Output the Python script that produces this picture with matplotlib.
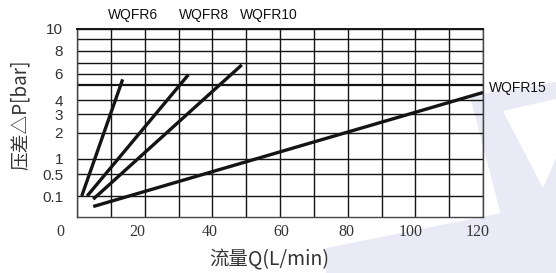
import numpy as np
import matplotlib
matplotlib.use("Agg")
import matplotlib.pyplot as plt
from matplotlib.transforms import ScaledTranslation

# pressure-drop chart, values
levels = [0, 0.1, 0.5, 1, 2, 3, 4, 5, 6, 7, 8, 9, 10]
# distance of each level from the bottom of the grid (picture pixels)
level_pos = [0, 21, 42.7, 58, 84.3, 102.7, 117, 132, 143.3, 154.3, 166, 177.7, 188]

ytick_vals = [0.1, 0.5, 1, 2, 3, 4, 6, 8, 10]
ytick_labels = ["0.1", "0.5", "1", "2", "3", "4", "6", "8", "10"]
xtick_vals = [0, 20, 40, 60, 80, 100, 120]

q_wqfr6 = [1.4, 13.5]
p_wqfr6 = [0.1, 5.5]
q_wqfr8 = [3.0, 32.9]
p_wqfr8 = [0.1, 5.9]
q_wqfr10 = [4.8, 48.7]
p_wqfr10 = [0.085, 6.8]
q_wqfr15 = [4.8, 120]
p_wqfr15 = [0.05, 4.5]

names = ["WQFR6", "WQFR8", "WQFR10", "WQFR15"]

W, H = 556, 273


def fwd(v):
    return np.interp(v, levels, level_pos)


def inv(p):
    return np.interp(p, level_pos, levels)


def px(pts):
    # picture pixels (from top-left) -> figure fraction
    return [[x / W, 1 - y / H] for x, y in pts]


fig = plt.figure(figsize=(W / 100, H / 100), dpi=100)
fig.patch.set_facecolor("white")

# faint logo watermark behind everything
wm = "#eaeaf6"
for pts, c in [
    ([(326, 273), (326, 248), (501, 213), (516, 273)], wm),
    ([(470, 96), (556, 82), (556, 273), (516, 273)], wm),
    ([(503, 111), (556, 99), (556, 158), (543, 188)], "white"),
]:
    fig.patches.append(plt.Polygon(px(pts), closed=True, transform=fig.transFigure,
                                   facecolor=c, edgecolor="none", zorder=-5))

ax = fig.add_axes([77 / W, 1 - 217 / H, 406 / W, 188 / H])
ax.patch.set_alpha(0)
ax.set_yscale("function", functions=(fwd, inv))
ax.set_xlim(0, 120)
ax.set_ylim(0, 10)

ink = "#141414"
for q, p in [(q_wqfr6, p_wqfr6), (q_wqfr8, p_wqfr8), (q_wqfr10, p_wqfr10), (q_wqfr15, p_wqfr15)]:
    ax.plot(q, p, color=ink, lw=2.4, solid_capstyle="butt", zorder=3)

# grid
ax.set_xticks(xtick_vals)
ax.set_xticks(range(10, 120, 20), minor=True)
ax.set_yticks(ytick_vals)
ax.set_yticklabels(ytick_labels)
ax.set_yticks([5, 7, 9], minor=True)
ax.grid(True, which="both", color=ink, lw=1.0)
ax.set_axisbelow(True)
ax.yaxis.get_minor_ticks()[0].gridline.set_linewidth(1.6)
for s in ax.spines.values():
    s.set_color("#444444")
    s.set_linewidth(1.0)
ax.spines["top"].set_color(ink)
ax.spines["top"].set_linewidth(1.4)

ax.tick_params(which="both", length=0)
ax.tick_params(axis="x", pad=5, labelsize=11.5, labelcolor="#333333")
ax.tick_params(axis="y", pad=10, labelsize=11, labelcolor="#333333")
for t in ax.get_xticklabels():
    t.set_fontfamily("Liberation Serif")
for t in ax.get_yticklabels():
    t.set_fontfamily("Liberation Sans")

# x labels in the picture sit a bit left of their grid lines
offsets = [-17, -7, -3, 1, -1, -5, -5]
for t, dx in zip(ax.get_xticklabels(), offsets):
    t.set_transform(t.get_transform() + ScaledTranslation(dx / 100, 0, fig.dpi_scale_trans))

cjk = ["Noto Sans CJK SC", "DejaVu Sans"]
fig.text(20 / W, 1 - 115 / H, "压差△P[bar]", rotation=90, ha="center", va="center",
         fontsize=13.5, family=cjk, color="#333333")
fig.text(269 / W, 1 - 260 / H, "流量Q(L/min)", ha="center", va="center",
         fontsize=14, family=cjk, color="#333333")

lab = dict(fontsize=10, family="Liberation Sans", color="#111111", va="center")
fig.text(132.5 / W, 1 - 15 / H, names[0], ha="center", **lab)
fig.text(204 / W, 1 - 15 / H, names[1], ha="center", **lab)
fig.text(269 / W, 1 - 15 / H, names[2], ha="center", **lab)
fig.text(489 / W, 1 - 88 / H, names[3], ha="left", **lab)

fig.savefig("out.png", dpi=100)
